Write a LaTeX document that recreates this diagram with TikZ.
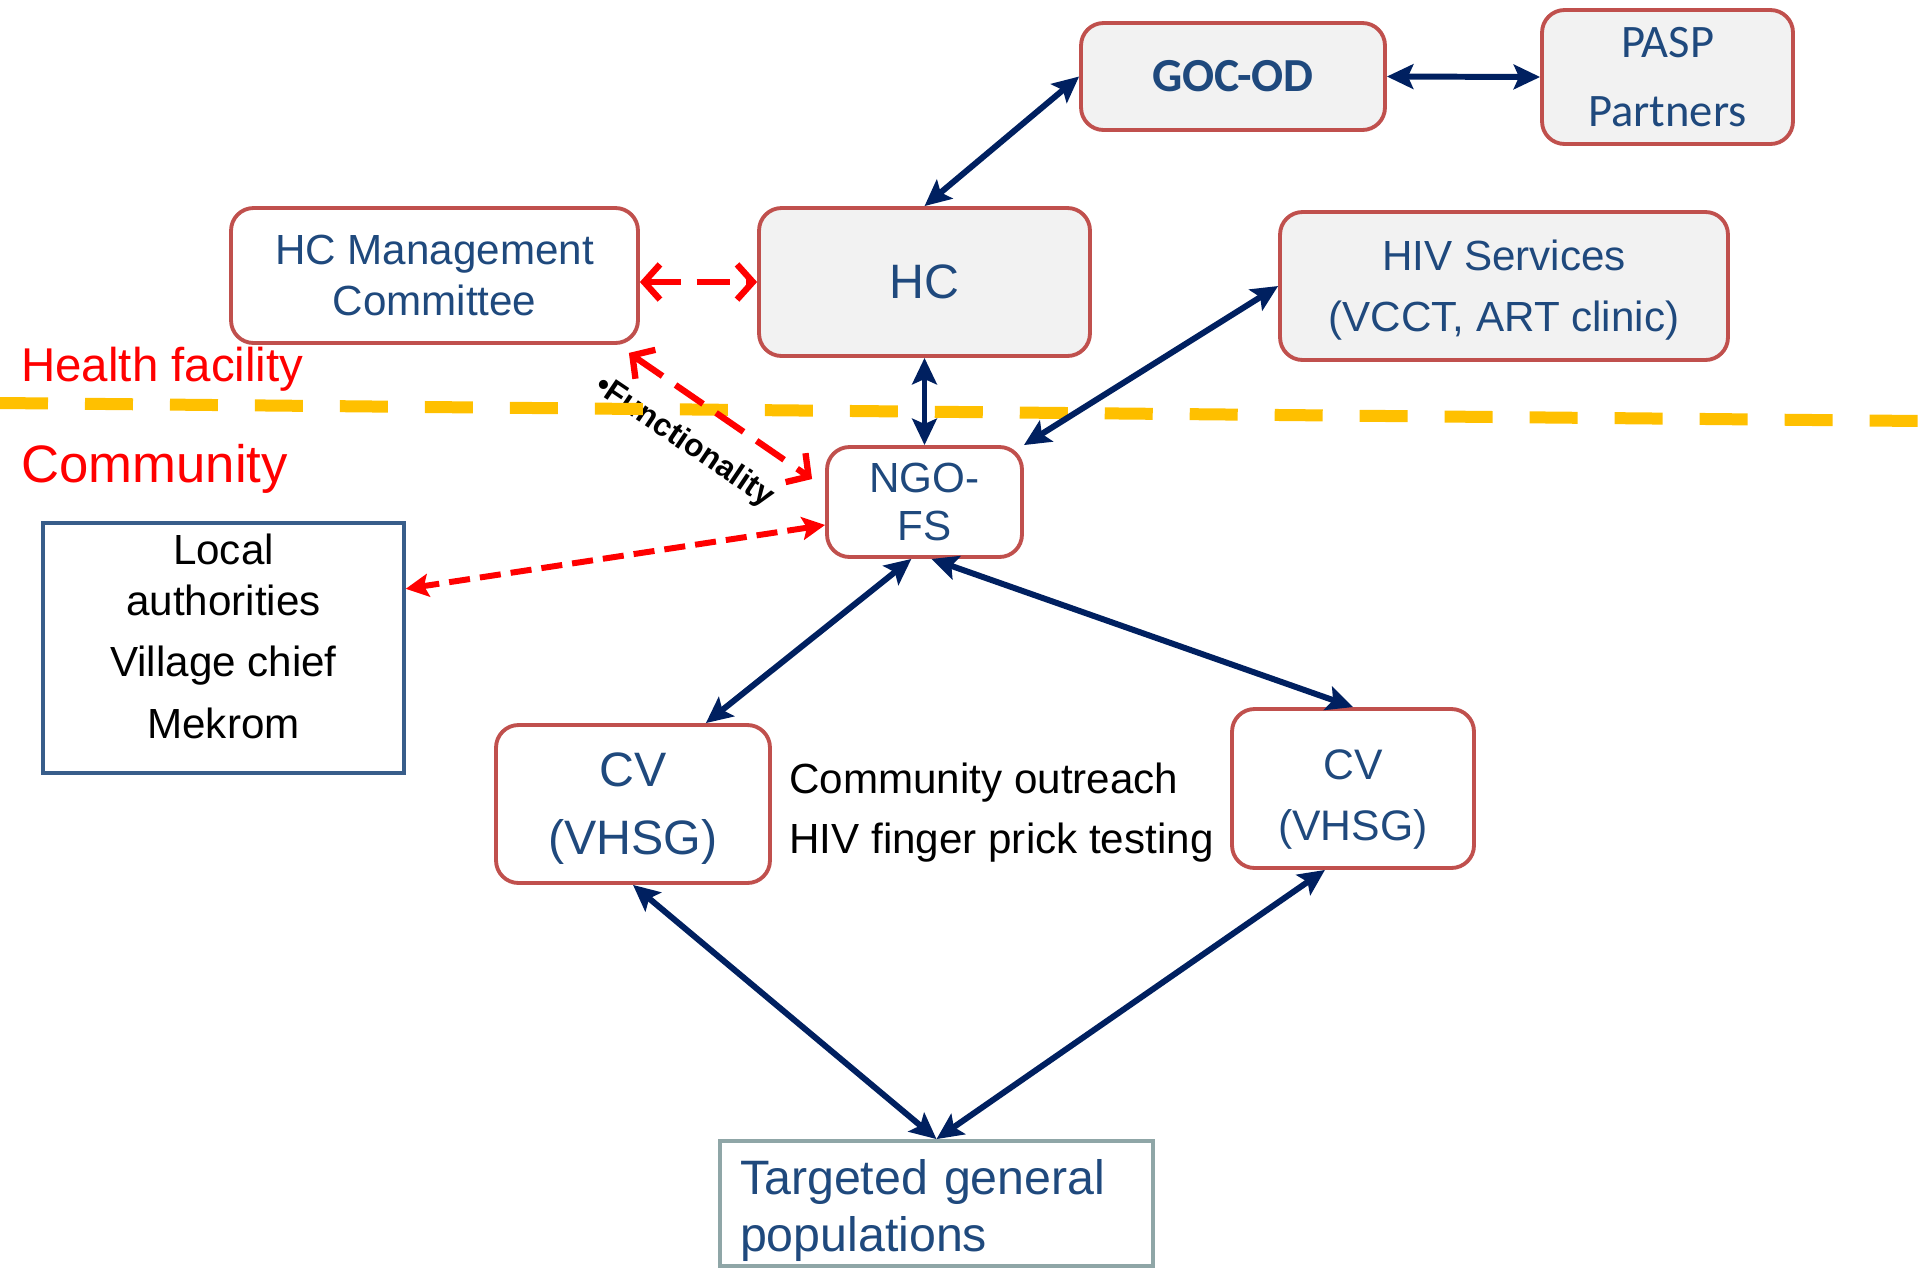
\documentclass[tikz,border=0pt]{standalone}
\usepackage{fontspec}
\setmainfont{Liberation Sans}
\newfontfamily\calibfont{Carlito}
\usetikzlibrary{arrows.meta,calc}
\definecolor{boxred}{HTML}{C0504D}
\definecolor{boxfill}{HTML}{F2F2F2}
\definecolor{textblue}{HTML}{1F497D}
\definecolor{navy}{HTML}{002060}
\definecolor{gold}{HTML}{FFC000}
\definecolor{lablue}{HTML}{385D8A}
\definecolor{tgtgrey}{HTML}{8FA6A7}

\begin{document}
\begin{tikzpicture}[
		x=0.02cm, y=-0.02cm,
		box/.style={draw=boxred, line width=2.2pt, rounded corners=0.45cm, text=textblue, align=center, inner sep=0pt},
		greybox/.style={box, fill=boxfill},
		navylink/.style={navy, line width=3.4pt, {Stealth[length=15pt,width=14pt,inset=3pt]}-{Stealth[length=15pt,width=14pt,inset=3pt]}},
		redlink/.style={red, line width=3.6pt, dash pattern=on 19pt off 9pt, {Straight Barb[length=9pt,width=20pt]}-{Straight Barb[length=9pt,width=20pt]}},
		redlocal/.style={red, line width=3.4pt, dash pattern=on 12pt off 5.7pt, {Stealth[length=13pt,width=13pt,inset=2.5pt]}-{Stealth[length=13pt,width=13pt,inset=2.5pt]}}
	]
	\useasboundingbox (0,0) rectangle (1920,1269);

	% health facility level
	\node[greybox, minimum width=6.08cm, minimum height=2.14cm, font=\calibfont\bfseries\fontsize{27}{32}\selectfont] (goc) at (1233,76.5) {GOC-OD};
	\node[greybox, minimum width=5.02cm, minimum height=2.68cm, font=\calibfont\fontsize{26.5}{39.7}\selectfont] (pasp) at (1667.5,77) {PASP\\Partners};
	\node[greybox, minimum width=6.62cm, minimum height=2.96cm, font=\fontsize{27.5}{32}\selectfont] (hc) at (924.5,282) {HC};
	\node[box, fill=white, minimum width=8.14cm, minimum height=2.7cm, font=\fontsize{24}{29}\selectfont] (hcmc) at (434.5,275.5) {HC Management\\Committee};
	\node[greybox, minimum width=8.96cm, minimum height=2.96cm, text height=57pt, font=\fontsize{24}{34.6}\selectfont] (hiv) at (1504,286) {HIV Services\\(VCCT, ART clinic)};

	% community level
	\node[box, fill=white, minimum width=3.9cm, minimum height=2.2cm, font=\fontsize{24}{27.8}\selectfont] (ngo) at (924.5,502) {NGO-\\FS};
	\node[draw=lablue, line width=2pt, align=center, inner sep=0pt, minimum width=7.22cm, minimum height=5cm, text height=102.8pt, font=\fontsize{24}{29}\selectfont] (local) at (223.5,648) {Local\\authorities\\[6pt]Village chief\\[6pt]Mekrom};
	\node[box, fill=white, minimum width=5.48cm, minimum height=3.16cm, text height=63.3pt, font=\fontsize{27.5}{39}\selectfont] (cvl) at (633,804) {CV\\(VHSG)};
	\node[box, fill=white, minimum width=4.84cm, minimum height=3.18cm, text height=64pt, font=\fontsize{24.3}{34.6}\selectfont] (cvr) at (1353,788.5) {CV\\(VHSG)};
	\node[anchor=west, align=left, inner sep=0pt, font=\fontsize{24}{34.6}\selectfont] (outreach) at (789,812.5) {Community outreach\\HIV finger prick testing};
	\node[draw=tgtgrey, line width=2.2pt, text=textblue, align=left, text width=7.86cm, inner xsep=0.4cm, inner ysep=0pt, minimum height=2.5cm, text height=28pt, font=\fontsize{27.5}{32.4}\selectfont] (tgt) at (936.5,1203.5) {Targeted general\\populations};

	% level labels
	\node[anchor=west, red, inner sep=0pt, font=\fontsize{27}{32}\selectfont] (hf) at (21,369) {Health facility};
	\node[anchor=west, red, inner sep=0pt, font=\fontsize{30}{36}\selectfont] (comm) at (21,469) {Community};
	\node[rotate=-34, inner sep=0pt, font=\bfseries\fontsize{18}{21}\selectfont] (func) at (684,442) {•Functionality};

	% dividing line
	\coordinate (divl) at (0,403);
	\coordinate (divr) at (1920,421);
	\draw[gold, line width=0.24cm, dash pattern=on 0.96cm off 0.74cm] (divl) -- (divr);

	% links
	\draw[navylink] (hc.north) -- (goc.west);
	\draw[navylink] (goc.east) -- (pasp.west);
	\draw[redlink] (hc.west -| hcmc.east) -- (hc.west);
	\draw[redlink] ($(hcmc.south east)+(-11,8)$) -- ($(ngo.west)+(-13,-23)$);
	\draw[navylink] (hc.south) -- (ngo.north);
	\draw[navylink] (hiv.west) -- (ngo.north east);
	\draw[redlocal] (ngo.193) -- (local.18);
	\draw[navylink] (ngo.-103) -- (cvl.48);
	\draw[navylink] (ngo.-83) -- (cvr.north);
	\draw[navylink] (cvl.south) -- (tgt.north);
	\draw[navylink] (cvr.-109) -- (tgt.north);
\end{tikzpicture}
\end{document}
